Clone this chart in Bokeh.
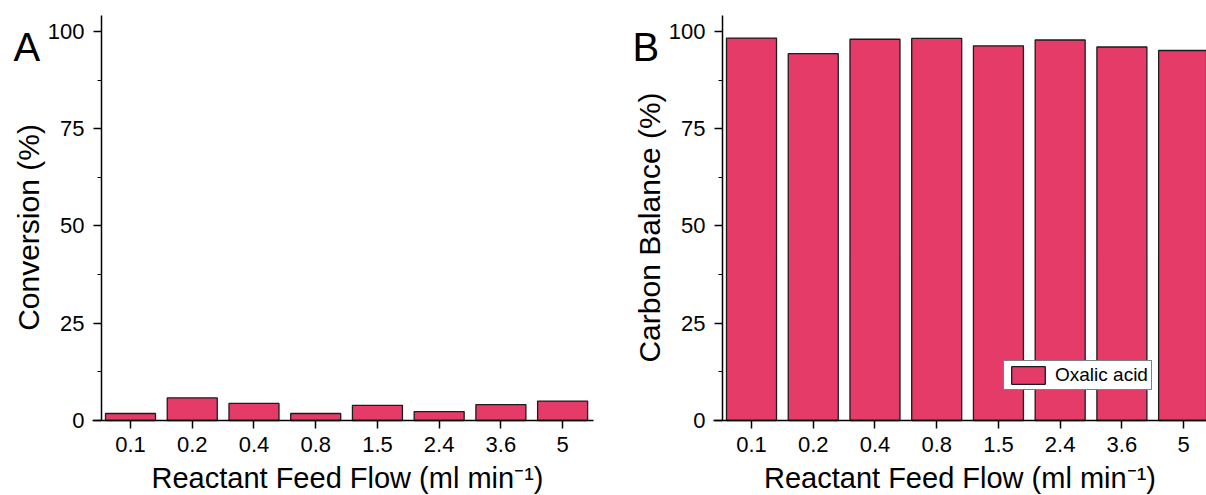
from bokeh.plotting import figure
from bokeh.layouts import row
from bokeh.models import Range1d, FixedTicker, Label, ColumnDataSource, LinearAxis
from bokeh.embed import file_html
from bokeh.resources import INLINE

# ---- data ----
flows = ["0.1", "0.2", "0.4", "0.8", "1.5", "2.4", "3.6", "5"]
conversion = [1.8, 5.8, 4.4, 1.8, 3.9, 2.3, 4.1, 5.0]
carbon_balance = [98.3, 94.3, 98.0, 98.2, 96.3, 97.8, 96.0, 95.1]
y_ticks = [0, 25, 50, 75, 100]
y_minor_ticks = [12.5, 37.5, 62.5, 87.5]
series_name = "Oxalic acid"
x_title = "Reactant Feed Flow (ml min\u207b\u00b9)"
y_title_a = "Conversion (%)"
y_title_b = "Carbon Balance (%)"

# ---- styling / layout constants ----
BAR = "#E53B69"
EDGE = "#1c1c1c"
FONT = "Liberation Sans"
H = 495                 # canvas height
Y_TOP = 104.1           # top of the value axis
AX_X0 = -0.47           # category-axis start (data units)
FRAME_TOP, FRAME_BOTTOM = 15, 420   # pixel rows of value-axis top and zero line
SX = 61.73              # pixels per category
SY = (FRAME_BOTTOM - FRAME_TOP) / Y_TOP


def make(width, axis_px, x_axis_end, x_title_end, values, ytitle, letter, letter_x, legend_loc):
    xs = list(range(len(flows)))
    x0 = AX_X0 - axis_px / SX
    x1 = AX_X0 + (width - axis_px) / SX
    y0 = -(H - FRAME_BOTTOM) / SY
    y1 = FRAME_BOTTOM / SY
    p = figure(width=width, height=H, output_backend="svg", toolbar_location=None,
               x_range=Range1d(x0, x1), y_range=Range1d(y0, y1),
               min_border_left=0, min_border_right=0, min_border_top=0, min_border_bottom=0)
    p.outline_line_color = None
    p.border_fill_color = "white"
    p.background_fill_color = "white"
    p.xgrid.visible = False
    p.ygrid.visible = False

    src = ColumnDataSource(dict(x=xs, flow=flows, value=values))
    kw = dict(x="x", top="value", bottom=0, width=0.81, source=src,
              fill_color=BAR, line_color=EDGE, line_width=1.3)
    if legend_loc is not None:
        kw["legend_label"] = series_name
    p.vbar(**kw)

    # category (x) axis, pinned at value 0
    xa = p.xaxis[0]
    xa.fixed_location = 0
    xa.bounds = (AX_X0 - 0.15, x_axis_end)
    xa.ticker = FixedTicker(ticks=xs, minor_ticks=[])
    xa.major_label_overrides = {i: f for i, f in enumerate(flows)}
    xa.axis_line_width = 1.5
    xa.major_tick_line_width = 1.5
    xa.major_tick_in = 0
    xa.major_tick_out = 8
    xa.minor_tick_out = 0
    xa.major_label_standoff = 8
    xa.major_label_text_font = FONT
    xa.major_label_text_font_size = "22px"
    xa.major_label_text_color = "black"

    # x title on a line-less companion axis so it can be centred freely
    xt = LinearAxis(fixed_location=0, bounds=(AX_X0 - 0.15, x_title_end),
                    ticker=FixedTicker(ticks=[], minor_ticks=[]),
                    axis_line_color=None, major_tick_line_color=None, minor_tick_line_color=None,
                    major_tick_out=0, major_tick_in=0, minor_tick_out=0, minor_tick_in=0,
                    axis_label=x_title, axis_label_text_font=FONT,
                    axis_label_text_font_size="29px", axis_label_text_font_style="normal",
                    axis_label_text_color="black", axis_label_standoff=41)
    p.add_layout(xt, "below")

    # value (y) axis, pinned at the left end of the category range
    ya = p.yaxis[0]
    ya.fixed_location = AX_X0
    ya.bounds = (0, Y_TOP)
    ya.ticker = FixedTicker(ticks=y_ticks, minor_ticks=y_minor_ticks)
    ya.axis_line_width = 1.5
    ya.major_tick_line_width = 1.5
    ya.minor_tick_line_width = 1.2
    ya.major_tick_in = 0
    ya.major_tick_out = 8
    ya.minor_tick_in = 0
    ya.minor_tick_out = 4
    ya.major_label_standoff = 9
    ya.major_label_text_font = FONT
    ya.major_label_text_font_size = "22px"
    ya.major_label_text_color = "black"

    yt = LinearAxis(fixed_location=AX_X0, bounds=(-5, Y_TOP),
                    ticker=FixedTicker(ticks=[], minor_ticks=[]),
                    axis_line_color=None, major_tick_line_color=None, minor_tick_line_color=None,
                    major_tick_out=0, major_tick_in=0, minor_tick_out=0, minor_tick_in=0,
                    axis_label=ytitle, axis_label_text_font=FONT,
                    axis_label_text_font_size="30px", axis_label_text_font_style="normal",
                    axis_label_text_color="black", axis_label_standoff=57)
    p.add_layout(yt, "left")

    # panel letter
    p.add_layout(Label(x=letter_x, y=H - 46, x_units="screen", y_units="screen",
                       text=letter, text_align="left", text_baseline="alphabetic",
                       text_font=FONT, text_font_size="40px", text_color="black"))

    if legend_loc is not None:
        lg = p.legend[0]
        lg.location = legend_loc
        lg.glyph_width = 42
        lg.glyph_height = 22
        lg.label_height = 22
        lg.padding = 3
        lg.margin = 0
        lg.spacing = 0
        lg.label_standoff = 6
        lg.label_text_font = FONT
        lg.label_text_font_size = "19px"
        lg.label_text_color = "black"
        lg.border_line_color = "black"
        lg.border_line_width = 1
        lg.background_fill_alpha = 1.0
    return p


W1, W2 = 608, 598
p1 = make(W1, 101, 7.50, 7.65, conversion, y_title_a, "A", 13, None)
p2 = make(W2, 722 - W1, 7.6, 7.8, carbon_balance, y_title_b, "B", 635 - W1 - 3, (1003 - W1, H - 390))

layout = row(p1, p2)
open("out.html", "w").write(file_html(layout, INLINE))
